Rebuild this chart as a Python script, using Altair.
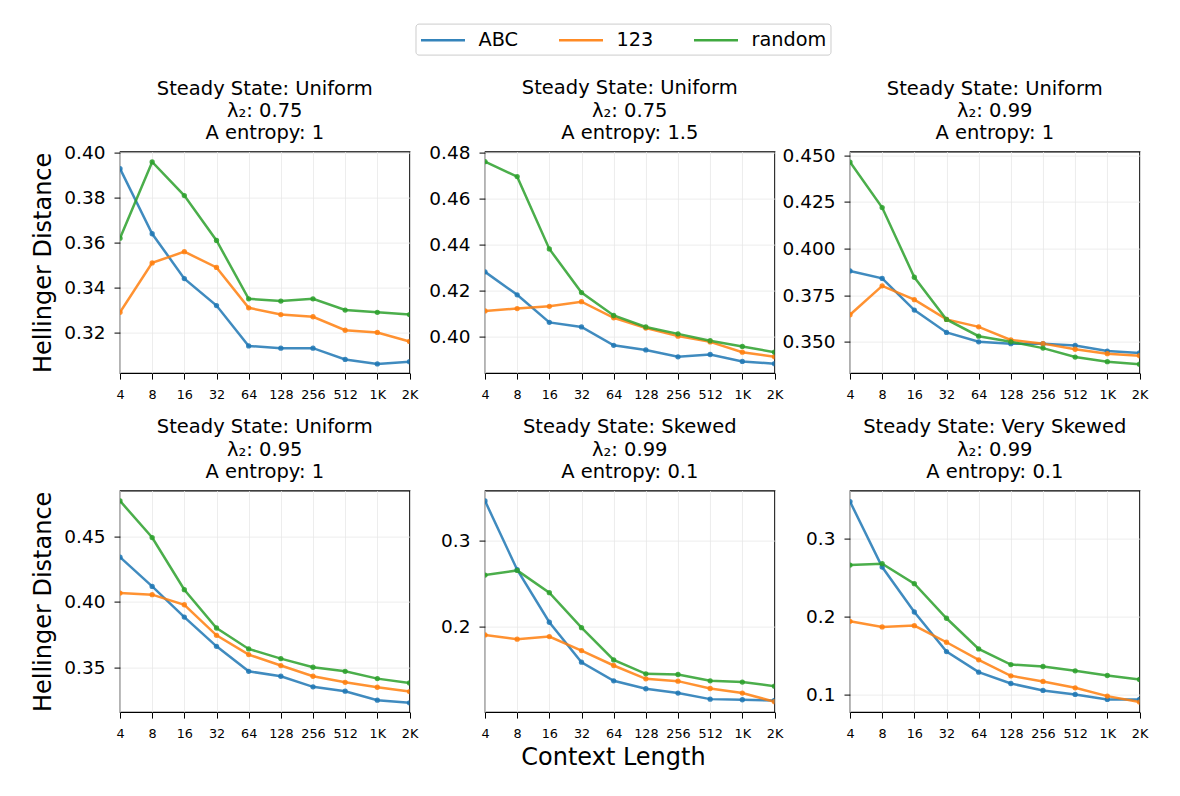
import altair as alt
import pandas as pd

contexts = ["4", "8", "16", "32", "64", "128", "256", "512", "1K", "2K"]
series_names = ["ABC", "123", "random"]
colors = ["#1f77b4", "#ff7f0e", "#2ca02c"]

states = ["Uniform", "Uniform", "Uniform", "Uniform", "Skewed", "Very Skewed"]
lambdas = ["0.75", "0.75", "0.99", "0.95", "0.99", "0.99"]
entropies = ["1", "1.5", "1", "1", "0.1", "0.1"]

abc_vals = [
    [0.393, 0.364, 0.344, 0.332, 0.314, 0.313, 0.313, 0.308, 0.306, 0.307],
    [0.428, 0.418, 0.406, 0.404, 0.396, 0.394, 0.391, 0.392, 0.389, 0.388],
    [0.388, 0.384, 0.367, 0.355, 0.350, 0.349, 0.349, 0.348, 0.345, 0.344],
    [0.4342, 0.4118, 0.3884, 0.366, 0.3469, 0.3431, 0.335, 0.3317, 0.3248, 0.3228],
    [0.3458, 0.2662, 0.2054, 0.1592, 0.1377, 0.1285, 0.1235, 0.1165, 0.1158, 0.115],
    [0.3467, 0.2631, 0.2057, 0.1552, 0.1289, 0.1144, 0.1055, 0.1004, 0.0941, 0.0941],
]
n123_vals = [
    [0.329, 0.351, 0.356, 0.349, 0.331, 0.328, 0.327, 0.321, 0.320, 0.316],
    [0.411, 0.412, 0.413, 0.415, 0.408, 0.4035, 0.400, 0.3975, 0.393, 0.391],
    [0.3645, 0.380, 0.3726, 0.362, 0.358, 0.351, 0.349, 0.346, 0.3436, 0.3425],
    [0.4067, 0.4055, 0.3978, 0.3744, 0.3597, 0.3513, 0.3431, 0.3385, 0.3347, 0.3314],
    [0.1908, 0.1858, 0.1888, 0.1727, 0.1554, 0.14, 0.1373, 0.1288, 0.1235, 0.1135],
    [0.1938, 0.1866, 0.1883, 0.1671, 0.1446, 0.1242, 0.117, 0.1089, 0.0983, 0.0907],
]
random_vals = [
    [0.362, 0.396, 0.381, 0.361, 0.335, 0.334, 0.335, 0.330, 0.329, 0.328],
    [0.476, 0.4695, 0.438, 0.419, 0.409, 0.404, 0.401, 0.398, 0.3955, 0.393],
    [0.4464, 0.422, 0.3846, 0.362, 0.353, 0.350, 0.3466, 0.3418, 0.3393, 0.338],
    [0.4772, 0.4492, 0.4093, 0.38, 0.364, 0.3566, 0.35, 0.3469, 0.3413, 0.338],
    [0.26, 0.2654, 0.2396, 0.1992, 0.1619, 0.1458, 0.145, 0.1377, 0.1362, 0.1315],
    [0.2656, 0.2673, 0.2418, 0.1977, 0.1586, 0.1386, 0.1361, 0.1306, 0.1246, 0.1195],
]

y_ticks = [
    [0.32, 0.34, 0.36, 0.38, 0.40],
    [0.40, 0.42, 0.44, 0.46, 0.48],
    [0.350, 0.375, 0.400, 0.425, 0.450],
    [0.35, 0.40, 0.45],
    [0.2, 0.3],
    [0.1, 0.2, 0.3],
]
y_formats = [".2f", ".2f", ".3f", ".2f", ".1f", ".1f"]
y_domains = [
    [0.3019, 0.4006],
    [0.3839, 0.4804],
    [0.3332, 0.4520],
    [0.3157, 0.4851],
    [0.1015, 0.3577],
    [0.0779, 0.3607],
]

PW, PH = 289.5, 221.5
FONT = "DejaVu Sans"
YLAB = 18.5
TITLE_GAP = 8.0

legend = alt.Legend(
    title=None,
    orient="none",
    legendX=295.5,
    legendY=-128,
    direction="horizontal",
    symbolType="M-1,0H3",
    symbolSize=484,
    symbolStrokeWidth=2.5,
    symbolOpacity=0.9,
    labelFontSize=19.3,
    labelFont=FONT,
    labelColor="black",
    labelOffset=34,
    columnPadding=35,
    padding=4,
    strokeColor="#cccccc",
    fillColor="white",
    cornerRadius=3,
)


def title_offset(i):
    # the top y tick label can stick out above the plot; keep titles a fixed gap above the frame
    lo, hi = y_domains[i]
    top_tick = max(y_ticks[i])
    dist = (hi - top_tick) / (hi - lo) * PH
    ext = max(0.0, YLAB / 2 - dist)
    return max(0.0, TITLE_GAP - ext)


def panel(i):
    rows = []
    for s, vals in zip(series_names, [abc_vals[i], n123_vals[i], random_vals[i]]):
        for c, v in zip(contexts, vals):
            rows.append({"ctx": c, "series": s, "value": v})
    df = pd.DataFrame(rows)
    col = i % 3

    if col == 0:
        y_enc = alt.Y(
            "value:Q",
            title="Hellinger Distance",
            scale=alt.Scale(domain=y_domains[i], nice=False, zero=False),
            axis=alt.Axis(
                values=y_ticks[i],
                format=y_formats[i],
                titleX=-70,
                titleY=PH / 2,
                titleBaseline="alphabetic",
                titleAlign="center",
                titleAngle=270,
                titleFontSize=24,
                titleFontWeight="normal",
            ),
        )
    else:
        y_enc = alt.Y(
            "value:Q",
            title=None,
            scale=alt.Scale(domain=y_domains[i], nice=False, zero=False),
            axis=alt.Axis(values=y_ticks[i], format=y_formats[i]),
        )

    if i == 4:
        x_enc = alt.X(
            "ctx:O",
            sort=contexts,
            title="Context Length",
            scale=alt.Scale(type="point", padding=0),
            axis=alt.Axis(
                labelAngle=0,
                titleX=128,
                titleY=52.4,
                titleBaseline="alphabetic",
                titleAlign="center",
                titleFontSize=24,
                titleFontWeight="normal",
            ),
        )
    else:
        x_enc = alt.X(
            "ctx:O",
            sort=contexts,
            title=None,
            scale=alt.Scale(type="point", padding=0),
            axis=alt.Axis(labelAngle=0),
        )

    title = alt.TitleParams(
        text=[
            f"Steady State: {states[i]}",
            f"λ₂: {lambdas[i]}",
            f"A entropy: {entropies[i]}",
        ],
        fontSize=19.5,
        lineHeight=22.3,
        frame="group",
        offset=title_offset(i),
        font=FONT,
        fontWeight="normal",
        anchor="middle",
        color="black",
    )

    return (
        alt.Chart(df)
        .mark_line(
            strokeWidth=2.5,
            opacity=0.85,
            clip=True,
            point=alt.OverlayMarkDef(size=28, filled=True, opacity=0.85, clip=True),
        )
        .encode(
            x=x_enc,
            y=y_enc,
            color=alt.Color(
                "series:N",
                scale=alt.Scale(domain=series_names, range=colors),
                legend=legend,
            ),
        )
        .properties(width=PW, height=PH, title=title)
    )


chart = (
    alt.concat(
        *[panel(i) for i in range(6)],
        columns=3,
        spacing={"row": 117, "column": 75},
        bounds="flush",
    )
    .properties(padding={"left": 22, "top": 14.6, "right": 5, "bottom": 5})
    .configure(font=FONT)
    .configure_view(stroke="black", strokeWidth=1.2)
    .configure_axis(
        domain=False,
        tickColor="black",
        tickSize=6,
        tickWidth=1,
        grid=True,
        gridColor="#e9e9e9",
        gridWidth=0.8,
        labelColor="black",
        labelFont=FONT,
        titleFont=FONT,
        titleColor="black",
        labelOverlap=False,
        labelFlush=False,
    )
    .configure_axisX(labelFontSize=12.8, labelPadding=9)
    .configure_axisY(labelFontSize=YLAB, labelPadding=9)
)

chart.save("out.html", embed_options={"renderer": "svg", "actions": False})
